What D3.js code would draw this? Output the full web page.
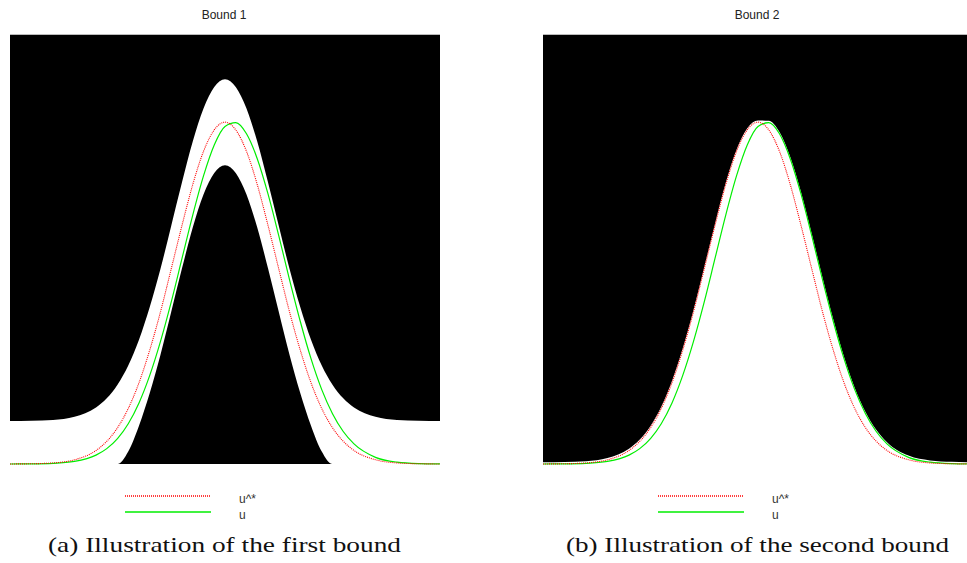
<!DOCTYPE html>
<html>
<head>
<meta charset="utf-8">
<script src="https://cdn.jsdelivr.net/npm/d3@7"></script>
<style>
  body { margin: 0; background: #fff; }
  svg { display: block; }
</style>
</head>
<body>
<div id="chart"></div>
<script>
// sample positions along the x axis (0..100 across each image)
const xs = [0, 5, 10, 15, 20, 22.5, 25, 27.5, 30, 32.5, 35, 37.5, 40, 42.5, 45, 47.5, 50,
            52.5, 55, 57.5, 60, 62.5, 65, 67.5, 70, 72.5, 75, 77.5, 80, 85, 90, 95, 100];

// u^* (red dotted)
const uStar = [0.0001, 0.0006, 0.0025, 0.0098, 0.0314, 0.0527, 0.0843, 0.129, 0.189, 0.265, 0.354, 0.454, 0.555, 0.650, 0.727, 0.777, 0.795,
               0.777, 0.727, 0.650, 0.555, 0.454, 0.354, 0.265, 0.189, 0.129, 0.0843, 0.0527, 0.0314, 0.0098, 0.0025, 0.0006, 0.0001];

// u (green)
const uVals = [0.0000, 0.0003, 0.0015, 0.0060, 0.0206, 0.0358, 0.0591, 0.0937, 0.142, 0.206, 0.285, 0.377, 0.478, 0.579, 0.670, 0.742, 0.785,
               0.794, 0.768, 0.710, 0.628, 0.531, 0.429, 0.332, 0.245, 0.173, 0.117, 0.0756, 0.0467, 0.0155, 0.0043, 0.0010, 0.0002];

// first bound: white band between lower and upper
const bound1Upper = [0.1001, 0.1006, 0.1025, 0.1098, 0.1314, 0.1527, 0.1843, 0.229, 0.289, 0.365, 0.454, 0.554, 0.655, 0.750, 0.827, 0.877, 0.895,
                     0.877, 0.827, 0.750, 0.655, 0.554, 0.454, 0.365, 0.289, 0.229, 0.1843, 0.1527, 0.1314, 0.1098, 0.1025, 0.1006, 0.1001];
const bound1Lower = [0, 0, 0, 0, 0, 0, 0, 0.029, 0.089, 0.165, 0.254, 0.354, 0.455, 0.550, 0.627, 0.677, 0.695,
                     0.677, 0.627, 0.550, 0.455, 0.354, 0.254, 0.165, 0.089, 0.029, 0, 0, 0, 0, 0, 0, 0];

// second bound: white below this curve
const bound2Upper = [0.0041, 0.0046, 0.0065, 0.0138, 0.0354, 0.0567, 0.0883, 0.133, 0.193, 0.269, 0.358, 0.458, 0.559, 0.654, 0.731, 0.781, 0.799,
                     0.798, 0.772, 0.714, 0.632, 0.535, 0.433, 0.336, 0.249, 0.177, 0.121, 0.0796, 0.0507, 0.0195, 0.0083, 0.0050, 0.0042];

const titles = ['Bound 1', 'Bound 2'];
const captions = ['(a) Illustration of the first bound', '(b) Illustration of the second bound'];
const captionWidths = [353, 383];
const legendLabels = ['u^*', 'u'];

const width = 967;
const height = 563;

const sansFont = "'Liberation Sans', Arial, sans-serif";
const serifFont = "'Liberation Serif', 'Times New Roman', serif";

const svg = d3.select('#chart')
    .append('svg')
    .attr('width', width)
    .attr('height', height);

const panelLefts = [10, 543];
const panelW = 430;
const plotTop = 34;
const plotBottom = 464;

const y = d3.scaleLinear().domain([0, 1]).range([plotBottom, plotTop]);

function drawPanel(i) {
    const left = panelLefts[i];
    const x = d3.scaleLinear().domain([0, 100]).range([left, left + panelW]);
    const g = svg.append('g');

    const clipId = 'clip' + i;
    g.append('clipPath').attr('id', clipId)
        .append('rect')
        .attr('x', left).attr('y', plotTop)
        .attr('width', panelW).attr('height', plotBottom - plotTop);

    const img = g.append('g').attr('clip-path', `url(#${clipId})`);

    // black image background
    img.append('rect')
        .attr('x', left).attr('y', plotTop)
        .attr('width', panelW).attr('height', plotBottom - plotTop)
        .attr('fill', '#000');

    // white admissible region
    const lower = i === 0 ? bound1Lower : xs.map(() => 0);
    const upper = i === 0 ? bound1Upper : bound2Upper;
    const area = d3.area()
        .x((d, k) => x(xs[k]))
        .y0((d, k) => y(lower[k]))
        .y1((d, k) => y(upper[k]))
        .curve(d3.curveMonotoneX);
    img.append('path')
        .datum(xs)
        .attr('d', area)
        .attr('fill', '#fff');

    // top edge of the image shows a light grey line
    g.append('line')
        .attr('x1', left).attr('x2', left + panelW)
        .attr('y1', plotTop + 0.5).attr('y2', plotTop + 0.5)
        .attr('stroke', '#bbb').attr('stroke-width', 1);

    const line = d3.line()
        .x(d => x(d[0]))
        .y(d => y(d[1]))
        .curve(d3.curveMonotoneX);

    // u (green)
    g.append('path')
        .datum(xs.map((v, k) => [v, uVals[k]]))
        .attr('d', line)
        .attr('fill', 'none')
        .attr('stroke', '#00ee00')
        .attr('stroke-width', 1.2);

    // u^* (red, dotted)
    g.append('path')
        .datum(xs.map((v, k) => [v, uStar[k]]))
        .attr('d', line)
        .attr('fill', 'none')
        .attr('stroke', '#ff0000')
        .attr('stroke-width', 1.1)
        .attr('stroke-dasharray', '1,1');

    // title
    svg.append('text')
        .attr('x', left + 214)
        .attr('y', 19)
        .attr('text-anchor', 'middle')
        .attr('font-family', sansFont)
        .attr('font-size', 12)
        .attr('fill', '#222')
        .text(titles[i]);

    // legend
    const lg = svg.append('g');
    lg.append('line')
        .attr('x1', left + 115).attr('x2', left + 201)
        .attr('y1', 496).attr('y2', 496)
        .attr('stroke', '#ff0000').attr('stroke-width', 1.4)
        .attr('stroke-dasharray', '1,1');
    lg.append('line')
        .attr('x1', left + 115).attr('x2', left + 201)
        .attr('y1', 512).attr('y2', 512)
        .attr('stroke', '#00ee00').attr('stroke-width', 1.4);
    lg.selectAll('text')
        .data(legendLabels)
        .enter()
        .append('text')
        .attr('x', left + 229)
        .attr('y', (d, k) => 503 + k * 16)
        .attr('font-family', sansFont)
        .attr('font-size', 12)
        .attr('fill', '#333')
        .text(d => d);

    // caption under the figure
    svg.append('text')
        .attr('x', left + 214.5 - captionWidths[i] / 2)
        .attr('y', 552)
        .attr('font-family', serifFont)
        .attr('font-size', 22)
        .attr('fill', '#111')
        .attr('textLength', captionWidths[i])
        .attr('lengthAdjust', 'spacingAndGlyphs')
        .text(captions[i]);
}

drawPanel(0);
drawPanel(1);
</script>
</body>
</html>
